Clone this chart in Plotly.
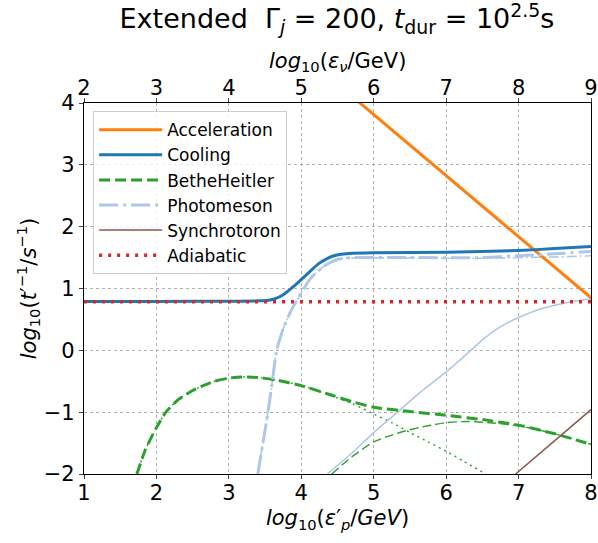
import plotly.graph_objects as go

# ---------------- data ----------------
acc_x = [4.7, 8.0]
acc_y = [4.11, 0.85]

cool_x = [1.0, 2.0, 3.0, 3.4, 3.55, 3.65, 3.75, 3.85, 3.95, 4.05, 4.15, 4.25, 4.35, 4.45, 4.55, 4.7, 5.0, 6.0, 7.0, 7.5, 8.0]
cool_y = [0.79, 0.79, 0.795, 0.80, 0.81, 0.84, 0.90, 0.99, 1.09, 1.20, 1.31, 1.41, 1.48, 1.53, 1.555, 1.572, 1.58, 1.585, 1.615, 1.645, 1.68]

bh_x = [1.73, 1.85, 2.0, 2.13, 2.31, 2.5, 2.63, 2.8, 3.0, 3.18, 3.4, 3.65, 4.0, 4.38, 4.7, 5.0, 5.5, 6.0, 6.5, 7.0, 7.5, 8.0]
bh_y = [-2.0, -1.6, -1.25, -1.0, -0.79, -0.65, -0.58, -0.50, -0.45, -0.43, -0.44, -0.48, -0.57, -0.71, -0.83, -0.92, -0.99, -1.05, -1.12, -1.21, -1.35, -1.52]

bh1_x = [1.73, 1.85, 2.0, 2.13, 2.31, 2.5, 2.63, 2.8, 3.0, 3.18, 3.4, 3.65, 4.0, 4.38, 4.7, 5.0, 5.25, 5.5, 5.75, 6.0, 6.25, 6.55]
bh1_y = [-2.0, -1.6, -1.25, -1.0, -0.79, -0.65, -0.58, -0.50, -0.45, -0.43, -0.44, -0.48, -0.57, -0.72, -0.86, -1.03, -1.17, -1.33, -1.48, -1.63, -1.80, -2.0]

bh2_x = [4.42, 4.7, 5.0, 5.25, 5.44, 5.75, 6.0, 6.3, 6.6, 7.0, 7.5, 8.0]
bh2_y = [-2.0, -1.72, -1.48, -1.37, -1.30, -1.22, -1.17, -1.15, -1.17, -1.22, -1.35, -1.52]

pm_x = [3.40, 3.47, 3.54, 3.60, 3.66, 3.75, 3.85, 3.93, 4.0, 4.1, 4.2, 4.3, 4.4, 4.5, 4.6, 4.75, 5.5, 6.5, 7.0, 7.5, 8.0]
pm_y = [-2.0, -1.5, -1.0, -0.5, 0.0, 0.35, 0.62, 0.79, 0.93, 1.12, 1.25, 1.35, 1.42, 1.47, 1.49, 1.50, 1.50, 1.50, 1.53, 1.56, 1.60]

pm1_x = [4.36, 4.7, 5.0, 5.33, 5.6, 6.0, 6.34, 6.5, 6.75, 7.0, 7.25, 7.5, 7.75, 8.0]
pm1_y = [-2.0, -1.66, -1.33, -1.0, -0.72, -0.35, 0.0, 0.17, 0.38, 0.53, 0.65, 0.73, 0.79, 0.83]

pm2_x = [3.40, 3.47, 3.54, 3.60, 3.66, 3.75, 3.85, 3.93, 4.0, 4.1, 4.2, 4.3, 4.4, 4.5, 4.6, 4.75, 5.5, 6.0, 6.5, 7.0, 7.5, 8.0]
pm2_y = [-2.0, -1.5, -1.0, -0.5, 0.0, 0.35, 0.62, 0.79, 0.93, 1.12, 1.25, 1.35, 1.42, 1.47, 1.49, 1.495, 1.495, 1.49, 1.49, 1.50, 1.51, 1.53]

syn_x = [6.96, 8.0]
syn_y = [-2.0, -0.96]

adi_x = [1.0, 8.0]
adi_y = [0.785, 0.785]

x_ticks = [1, 2, 3, 4, 5, 6, 7, 8]
x2_ticks = [2, 3, 4, 5, 6, 7, 8, 9]
y_ticks = [-2, -1, 0, 1, 2, 3, 4]

C_ORANGE = "#ff7f0e"
C_BLUE = "#1f77b4"
C_GREEN = "#2ca02c"
C_LBLUE = "#aec7e8"
C_BROWN = "#8c564b"
C_RED = "#d62728"

fig = go.Figure()

def add(x, y, color, width, dash, name=None, show=False, shape="spline"):
    fig.add_trace(go.Scatter(
        x=x, y=y, mode="lines", name=name, showlegend=show,
        line=dict(color=color, width=width, dash=dash, shape=shape, smoothing=0.6),
        hoverinfo="skip"))

# components (thin)
add(bh1_x, bh1_y, C_GREEN, 1.4, "2px,4px")
add(bh2_x, bh2_y, C_GREEN, 1.4, "9px,4px")
add(pm1_x, pm1_y, C_LBLUE, 1.6, "solid")
add(pm2_x, pm2_y, C_LBLUE, 1.6, "10px,3px,2px,3px")

# main lines
add(acc_x, acc_y, C_ORANGE, 3, "solid", "Acceleration", True, "linear")
add(cool_x, cool_y, C_BLUE, 3, "solid", "Cooling", True)
add(bh_x, bh_y, C_GREEN, 3, "11px,5px", "BetheHeitler", True)
add(pm_x, pm_y, C_LBLUE, 3, "19px,5px,3px,5px", "Photomeson", True)
add(syn_x, syn_y, C_BROWN, 1.5, "solid", "Synchrotoron", True, "linear")
add(adi_x, adi_y, C_RED, 3.5, "3px,6px", "Adiabatic", True, "linear")

# invisible trace to activate the top axis
fig.add_trace(go.Scatter(x=[2, 9], y=[None, None], xaxis="x2", mode="lines",
                         showlegend=False, hoverinfo="skip"))

font = dict(family="DejaVu Sans", size=21, color="black")

fig.update_layout(
    width=598, height=543,
    margin=dict(l=84, r=7, t=103, b=69),
    paper_bgcolor="white", plot_bgcolor="white",
    font=font,
    title=dict(text="Extended  Γ<sub><i>j</i></sub> = 200, <i>t</i><sub>dur</sub> = 10<sup>2.5</sup>s",
               x=0.5635, xanchor="center", y=0.966, yanchor="middle",
               font=dict(family="DejaVu Sans", size=27, color="black")),
    xaxis=dict(range=[1, 8], tickvals=x_ticks, ticks="outside", ticklen=4, automargin=False,
               ticklabelstandoff=-4,
               showline=True, linecolor="black", linewidth=1.2, mirror=True,
               showgrid=True, gridcolor="#b0b0b0", griddash="dot", gridwidth=1,
               zeroline=False, tickfont=dict(size=21),
               title=dict(text="<i>log</i><sub>10</sub>(<i>ε</i>′<sub><i>p</i></sub>/<i>GeV</i>)",
                          font=dict(size=21), standoff=6)),
    xaxis2=dict(range=[2, 9], tickvals=x2_ticks, overlaying="x", side="top", anchor="y",
                ticks="outside", ticklen=4, showgrid=False, zeroline=False, automargin=False,
                ticklabelstandoff=-5,
                tickfont=dict(size=21)),
    yaxis=dict(range=[-2, 4], tickvals=y_ticks, ticks="outside", ticklen=4, automargin=False,
               showline=True, linecolor="black", linewidth=1.2, mirror=True,
               showgrid=True, gridcolor="#b0b0b0", griddash="dot", gridwidth=1,
               zeroline=False, tickfont=dict(size=21),
               title=dict(text="<i>log</i><sub>10</sub>(<i>t</i>′<sup>−1</sup>/<i>s</i><sup>−1</sup>)",
                          font=dict(size=21), standoff=1)),
    legend=dict(x=0.018, y=0.978, xanchor="left", yanchor="top",
                bgcolor="rgba(255,255,255,0.8)", bordercolor="#cccccc", borderwidth=1,
                font=dict(size=17), tracegroupgap=0, itemwidth=63),
    annotations=[dict(text="<i>log</i><sub>10</sub>(<i>ε</i><sub><i>ν</i></sub>/GeV)",
                      xref="paper", yref="paper", x=0.5, y=1, xanchor="center",
                      yanchor="bottom", yshift=26, showarrow=False,
                      font=dict(size=21, color="black"))],
)

fig.write_html("out.html", post_script="document.body.style.margin='0px';",
               config={"displayModeBar": False})
